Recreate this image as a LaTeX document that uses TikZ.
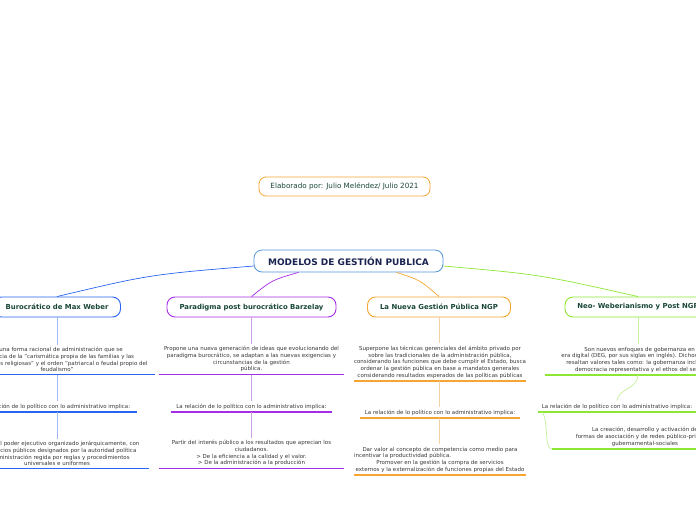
\documentclass[tikz,border=0pt]{standalone}
\usepackage{fontspec}
\setmainfont{DejaVu Sans}
\definecolor{raizazul}{RGB}{80,150,215}
\definecolor{marino}{RGB}{25,35,80}
\definecolor{verdetexto}{RGB}{25,70,55}
\definecolor{grisleaf}{RGB}{55,55,55}
\definecolor{wazul}{RGB}{40,100,240}
\definecolor{wazulclaro}{RGB}{160,185,240}
\definecolor{bmorado}{RGB}{165,45,230}
\definecolor{bmoradoclaro}{RGB}{205,160,230}
\definecolor{naranja}{RGB}{245,165,50}
\definecolor{naranjaclaro}{RGB}{245,210,165}
\definecolor{gverde}{RGB}{140,230,50}
\definecolor{gverdeclaro}{RGB}{195,240,155}
\begin{document}
\begin{tikzpicture}[x=1pt, y=-1pt,
  topic/.style={draw, rounded corners=8pt, line width=0.9pt, fill=white, minimum height=20pt,
    inner xsep=0pt, font=\fontsize{6.9}{7.5}\selectfont\bfseries, text=verdetexto},
  leaf/.style={anchor=south, align=center, inner xsep=0pt, inner ysep=2.5pt,
    font=\fontsize{5.5}{6.7}\selectfont, text=grisleaf},
  rule/.style={line width=1.1pt},
  link/.style={line width=0.7pt}]
\useasboundingbox (0,0) rectangle (696,520);
\clip (0,0) rectangle (696,520);

% centro y autor
\node[draw=naranja, rounded corners=7pt, line width=0.8pt, minimum width=171pt, minimum height=19pt,
  font=\fontsize{7.2}{8}\selectfont, text=verdetexto] (autor) at (344.5,186.5) {Elaborado por: Julio Meléndez/ Julio 2021};
\node[draw=raizazul, rounded corners=8pt, line width=0.8pt, minimum width=189pt, minimum height=22pt,
  font=\fontsize{9}{10}\selectfont\bfseries, text=marino] (raiz) at (348.5,261) {MODELOS DE GESTIÓN PUBLICA};

% ramas
\node[topic, draw=wazul, minimum width=127pt] (weber) at (57,307) {Burocrático de Max Weber};
\node[topic, draw=bmorado, minimum width=169pt] (barzelay) at (251.5,307) {Paradigma post burocrático Barzelay};
\node[topic, draw=naranja, minimum width=143pt] (ngp) at (439,307) {La Nueva Gestión Pública NGP};
\node[topic, draw=gverde, minimum width=146pt] (neo) at (638,307) {Neo- Weberianismo y Post NGP};

\draw[link, wazul] ([yshift=-5pt]raiz.west) .. controls (150,274.5) .. (weber.north);
\draw[link, bmorado] ([xshift=-50pt]raiz.south) .. controls (272,280) .. (barzelay.north);
\draw[link, naranja] ([xshift=48pt]raiz.south) .. controls (420,280) .. (ngp.north);
\draw[link, gverde] ([yshift=-5pt]raiz.east) .. controls (540,274.5) .. (neo.north);

% Weber
\node[leaf, minimum width=196pt] (w1) at (57,374.5) {Es una forma racional de administración que se\\
  diferencia de la "carismática propia de las familias y las\\
  comunidades religiosas" y el orden "patriarcal o feudal propio del\\
  feudalismo"};
\node[leaf, minimum width=164pt] (w2) at (55,412) {La relación de lo político con lo administrativo implica:};
\node[leaf, minimum width=184pt] (w3) at (57,468.5) {Supone el poder ejecutivo organizado jerárquicamente, con\\
  los servicios públicos designados por la autoridad política\\
  la administración regida por reglas y procedimientos\\
  universales e uniformes};
\foreach \n in {w1,w2,w3}
  \draw[rule, wazul] (\n.south west) -- (\n.south east);
\draw[link, wazulclaro] (weber.south) -- (w1.north);
\draw[link, wazulclaro] (w1.south) -- (w1.south |- w2.north);
\draw[link, wazulclaro] (w1.south |- w2.south) -- (w1.south |- w3.north);

% Barzelay
\node[leaf, minimum width=185pt] (b1) at (251.5,374.7) {Propone una nueva generación de ideas que evolucionando del\\
  paradigma burocrático, se adaptan a las nuevas exigencias y\\
  circunstancias de la gestión\\
  pública.};
\node[leaf, minimum width=160pt] (b2) at (251.5,412) {La relación de lo político con lo administrativo implica:};
\node[leaf, minimum width=185pt] (b3) at (251.5,468.7) {Partir del interés público a los resultados que aprecian los\\
  ciudadanos.\\
  > De la eficiencia a la calidad y el valor.\\
  > De la administración a la producción};
\foreach \n in {b1,b2,b3}
  \draw[rule, bmorado] (\n.south west) -- (\n.south east);
\draw[link, bmoradoclaro] (barzelay.south) -- (b1.north);
\draw[link, bmoradoclaro] (b1.south) -- (b2.north);
\draw[link, bmoradoclaro] (b2.south) -- (b3.north);

% NGP
\node[leaf, minimum width=166pt] (n1) at (440,381) {Superpone las técnicas gerenciales del ámbito privado por\\
  sobre las tradicionales de la administración pública,\\
  considerando las funciones que debe cumplir el Estado, busca\\
  ordenar la gestión pública en base a mandatos generales\\
  considerando resultados esperados de las políticas públicas};
\node[leaf, minimum width=160pt] (n2) at (440,418) {La relación de lo político con lo administrativo implica:};
\node[leaf, minimum width=166pt] (n3) at (440,475) {Dar valor al concepto de competencia como medio para\\
  \makebox[172pt][l]{incentivar la productividad pública.}\\
  Promover en la gestión la compra de servicios\\
  externos y la externalización de funciones propias del Estado};
\foreach \n in {n1,n2,n3}
  \draw[rule, naranja] (\n.south west) -- (\n.south east);
\draw[link, naranjaclaro] (ngp.south) -- (ngp.south |- n1.north);
\draw[link, naranjaclaro] (ngp.south |- n1.south) -- (ngp.south |- n2.north);
\draw[link, naranjaclaro] (ngp.south |- n2.south) -- (ngp.south |- n3.north);

% Neo-weberianismo
\node[leaf, minimum width=196pt] (g1) at (643,375) {Son nuevos enfoques de gobernanza en la\\
  era digital (DEG, por sus siglas en inglés). Dichos enfoques\\
  resaltan valores tales como: la gobernanza inclusiva, la\\
  democracia representativa y el ethos del servicio};
\node[leaf, minimum width=158pt] (g2) at (617,412) {La relación de lo político con lo administrativo implica:};
\node[leaf, minimum width=186pt] (g3) at (645,449) {La creación, desarrollo y activación de\\
  formas de asociación y de redes público-privadas-\\
  gubernamental-sociales};
\foreach \n in {g1,g2,g3}
  \draw[rule, gverde] (\n.south west) -- (\n.south east);
\draw[link, gverdeclaro] (neo.south) -- (neo.south |- g1.north);
\draw[link, gverdeclaro] (neo.south |- g1.south) .. controls +(0,14) and +(0,-12) .. (g2.north);
\draw[link, gverdeclaro] ([xshift=4pt]g2.south west) .. controls +(7,6) and +(-8,0) .. (g3.south west);
\end{tikzpicture}
\end{document}
